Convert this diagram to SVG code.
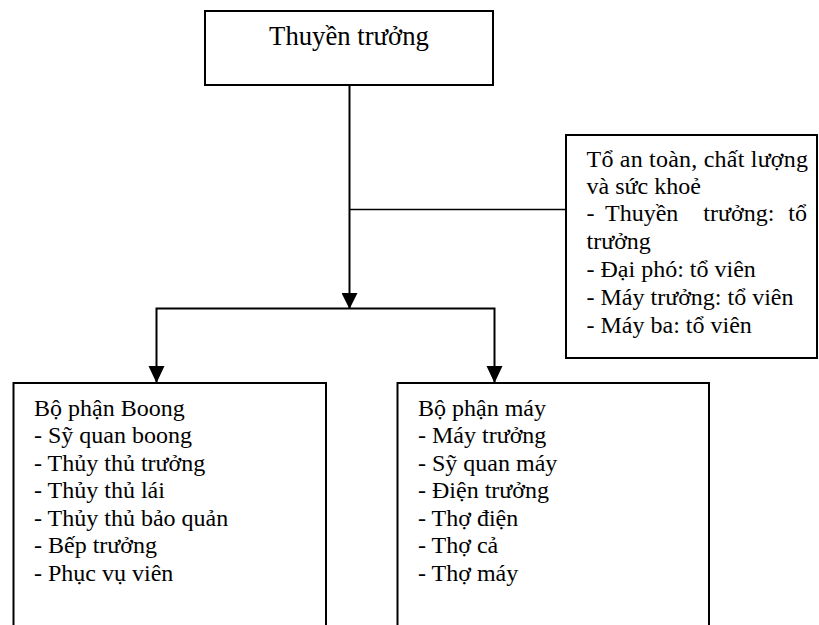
<svg xmlns="http://www.w3.org/2000/svg" width="819" height="625" viewBox="0 0 819 625">
  <style>
    .box { fill: #ffffff; stroke: #000000; stroke-width: 2; }
    text { font-size: 24px; fill: #000000; }
    .title { font-size: 26.7px; }
    .wire { fill: none; stroke: #000000; stroke-width: 2; }
    .thin { stroke-width: 1.6; }
  </style>
  <defs>
    <marker id="arrow" markerWidth="16" markerHeight="16" refX="15" refY="8" orient="auto" markerUnits="userSpaceOnUse">
      <path d="M0,0 L16,8 L0,16 Z" fill="#000000"/>
    </marker>
  </defs>

  <!-- connectors -->
  <g id="connectors">
    <line class="wire" x1="349.5" y1="85" x2="349.5" y2="308" marker-end="url(#arrow)"/>
    <line class="wire thin" x1="349.5" y1="209.5" x2="566" y2="209.5"/>
    <polyline class="wire" points="156.5,383 156.5,308.5 494.5,308.5 494.5,383"/>
    <path d="M148.5,366 L164.5,366 L156.5,383 Z" fill="#000000"/>
    <path d="M486.5,366 L502.5,366 L494.5,383 Z" fill="#000000"/>
  </g>

  <g font-family="Liberation Serif, Times New Roman, Tinos, serif">
  <!-- captain -->
  <g id="captain">
    <rect class="box" x="205" y="11" width="288" height="74"/>
    <text class="title" x="349" y="45" text-anchor="middle">Thuyền trưởng</text>
  </g>

  <!-- safety, quality and health team -->
  <g id="safety-team">
    <rect class="box" x="566" y="135" width="251" height="223"/>
    <text x="586.5" y="166.5" textLength="221.5" lengthAdjust="spacing">Tổ an toàn, chất lượng</text>
    <text x="586.5" y="193.5">và sức khoẻ</text>
    <text y="221"><tspan x="586.5">-</tspan><tspan x="605">Thuyền</tspan><tspan x="703.3">trưởng:</tspan><tspan x="788.3">tổ</tspan></text>
    <text x="586.5" y="248.5">trưởng</text>
    <text x="586.5" y="276.5">- Đại phó: tổ viên</text>
    <text x="586.5" y="304.5">- Máy trưởng: tổ viên</text>
    <text x="586.5" y="332.5">- Máy ba: tổ viên</text>
  </g>

  <!-- deck department -->
  <g id="deck-dept">
    <rect class="box" x="13.5" y="383" width="312.5" height="260"/>
    <text x="34" y="415.5">Bộ phận Boong</text>
    <text x="34" y="443">- Sỹ quan boong</text>
    <text x="34" y="470.5">- Thủy thủ trưởng</text>
    <text x="34" y="498">- Thủy thủ lái</text>
    <text x="34" y="525.5">- Thủy thủ bảo quản</text>
    <text x="34" y="553">- Bếp trưởng</text>
    <text x="34" y="580.5">- Phục vụ viên</text>
  </g>

  <!-- engine department -->
  <g id="engine-dept">
    <rect class="box" x="397.5" y="383" width="311.5" height="260"/>
    <text x="418" y="415.5">Bộ phận máy</text>
    <text x="418" y="443">- Máy trưởng</text>
    <text x="418" y="470.5">- Sỹ quan máy</text>
    <text x="418" y="498">- Điện trưởng</text>
    <text x="418" y="525.5">- Thợ điện</text>
    <text x="418" y="553">- Thợ cả</text>
    <text x="418" y="580.5">- Thợ máy</text>
  </g>
  </g>
</svg>
